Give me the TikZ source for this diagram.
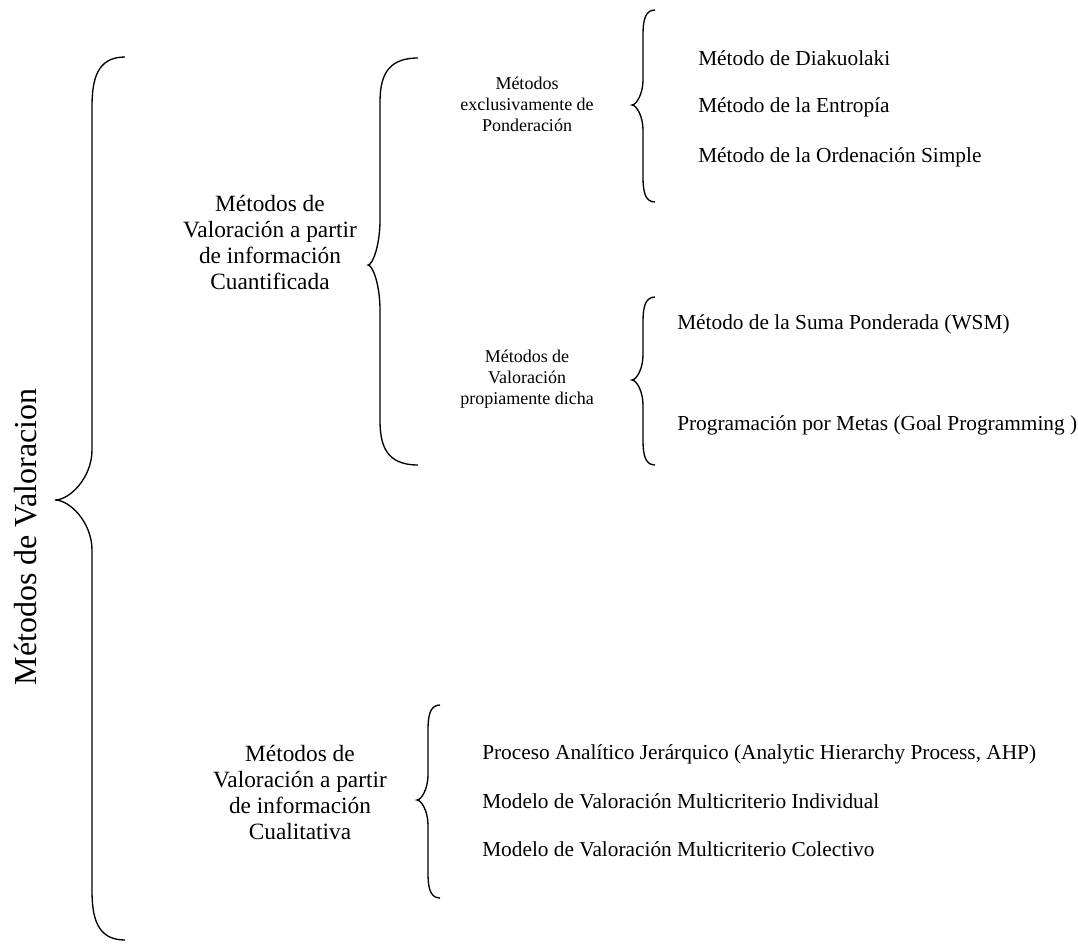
\documentclass[tikz,border=0pt]{standalone}
\usepackage{fontspec}
\setmainfont{Liberation Serif}
\usepackage{tikz}
\usetikzlibrary{positioning}

% curly brace as Word draws it: end x, line x, tip x, top y, tip y, bottom y, hook size
\newcommand{\wordbrace}[7]{%
  \draw[bracel] (#1,#4) .. controls (#2+0.15*#1-0.15*#2,#4) and (#2,#4+0.45*#7) .. (#2,#4+#7)
    -- (#2,#5-#7) .. controls (#2,#5-0.45*#7) and (#3+0.4*#2-0.4*#3,#5) .. (#3,#5)
    .. controls (#3+0.4*#2-0.4*#3,#5) and (#2,#5+0.45*#7) .. (#2,#5+#7)
    -- (#2,#6-#7) .. controls (#2,#6-0.45*#7) and (#2+0.15*#1-0.15*#2,#6) .. (#1,#6);}

\begin{document}
\begin{tikzpicture}[
    x=0.75pt, y=-0.75pt,
    bracel/.style={draw=black, line width=1pt},
    rootlbl/.style={font=\fontsize{24}{28}\selectfont, rotate=90},
    biglbl/.style={align=center, font=\fontsize{17.5}{19.5}\selectfont, inner sep=0pt},
    midlbl/.style={align=center, font=\fontsize{13.5}{15.75}\selectfont, inner sep=0pt},
    item/.style={anchor=west, font=\fontsize{16}{19}\selectfont, inner sep=0pt}
]
\useasboundingbox (0,0) rectangle (1078,943);

%% labels
\node[rootlbl] (root) at (26,537) {Métodos de Valoracion};
\node[biglbl] (cuant) at (270,242) {Métodos de\\Valoración a partir\\de información\\Cuantificada};
\node[biglbl] (cual)  at (300,792) {Métodos de\\Valoración a partir\\de información\\Cualitativa};
\node[midlbl] (pond)  at (527,104) {Métodos\\exclusivamente de\\Ponderación};
\node[midlbl] (prop)  at (527,379) {Métodos de\\Valoración\\propiamente dicha};

%% leaves
\node[item] (diak)  at (698,58)  {Método de Diakuolaki};
\node[item] (entr)  at (698,107) {Método de la Entropía};
\node[item] (orden) at (698,157) {Método de la Ordenación Simple};
\node[item] (wsm)   at (677,324) {Método de la Suma Ponderada (WSM)};
\node[item] (goal)  at (677,425) {Programación por Metas (Goal Programming )};
\node[item] (ahp)   at (482,754) {Proceso Analítico Jerárquico (Analytic Hierarchy Process, AHP)};
\node[item] (indiv) at (482,801) {Modelo de Valoración Multicriterio Individual};
\node[item] (colec) at (482,849) {Modelo de Valoración Multicriterio Colectivo};

%% braces
\wordbrace{125}{92}{55}{57}{500}{940}{50}
\wordbrace{418}{380}{368}{58}{265}{465}{45}
\wordbrace{655}{643}{632}{10}{105}{202}{25}
\wordbrace{655}{643}{632}{297}{380}{465}{25}
\wordbrace{440}{428}{417}{705}{800}{898}{25}

\end{tikzpicture}
\end{document}
